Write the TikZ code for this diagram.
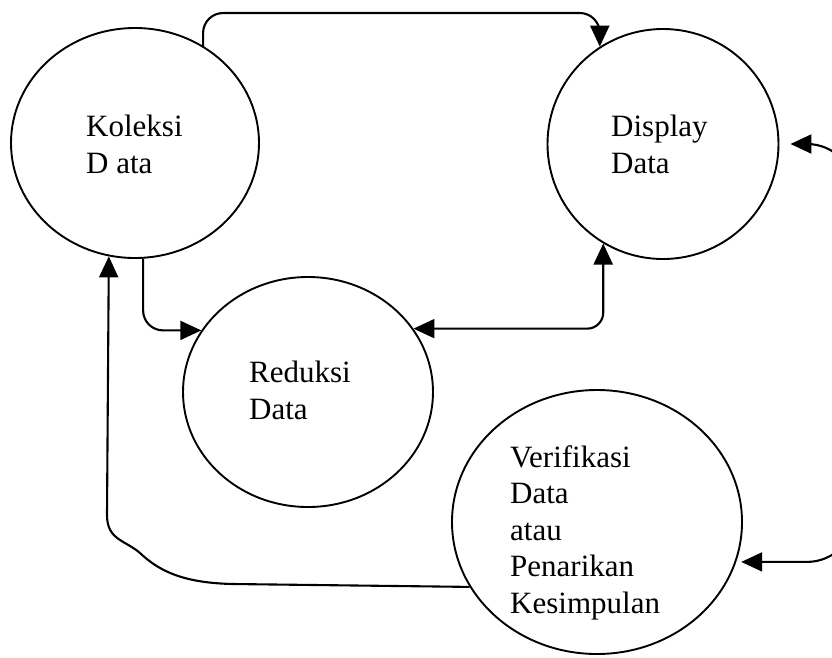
\documentclass[tikz,border=0pt]{standalone}
\usepackage{fontspec}
\setmainfont{Liberation Serif}
\usetikzlibrary{shapes.geometric,arrows.meta}
\tikzset{
  proc/.style={draw, ellipse, line width=1.9pt, inner sep=0pt},
  lbl/.style={anchor=north west, inner sep=0pt, align=left, font=\fontsize{31}{36.5}\selectfont},
  conn/.style={line width=2.1pt, -{Triangle[length=21pt,width=19pt]}},
  dconn/.style={line width=2.1pt, {Triangle[length=21pt,width=19pt]}-{Triangle[length=21pt,width=19pt]}}
}
\begin{document}
\begin{tikzpicture}[x=1pt,y=-1pt]
\useasboundingbox (0,0) rectangle (832,657);
\fill[white] (0,0) rectangle (832,657);
% process circles
\node[proc, minimum width=248pt, minimum height=230pt] (koleksi) at (135,143) {};
\node[proc, minimum width=231pt, minimum height=230pt] (display) at (663,144) {};
\node[proc, minimum width=250pt, minimum height=230pt] (reduksi) at (308,392) {};
\node[proc, minimum width=290pt, minimum height=264pt] (verif) at (597,522) {};
% labels
\node[lbl] (tkoleksi) at (86,115) {Koleksi\\D ata};
\node[lbl] (tdisplay) at (611,115) {Display\\Data};
\node[lbl] (treduksi) at (249,361) {Reduksi\\Data};
\node[lbl] (tverif) at (510,445) {Verifikasi\\Data\\atau\\Penarikan\\Kesimpulan};
% connectors
\coordinate (topy) at (0,13);
\draw[conn, rounded corners=20pt] (koleksi.55) -- (koleksi.55 |- topy) -- (display.123 |- topy) -- (display.123);
\draw[conn, rounded corners=20pt] (koleksi.-86) |- (reduksi.150);
\draw[dconn, rounded corners=16pt] (reduksi.31) -| (display.-121);
\coordinate (dtip) at ([xshift=11pt]display.east);
\coordinate (vtip) at ([xshift=5pt]verif.-16);
\coordinate (rside) at (855,0);
\draw[dconn, rounded corners=48pt] (dtip) -- (dtip -| rside) -- (vtip -| rside) -- (vtip);
\draw[conn] (verif.207) -- (233,584) .. controls (185,583) and (160,572) .. (140,553)
  .. controls (125,540) and (107,540) .. (107,515) -- (koleksi.-103);
\end{tikzpicture}
\end{document}
